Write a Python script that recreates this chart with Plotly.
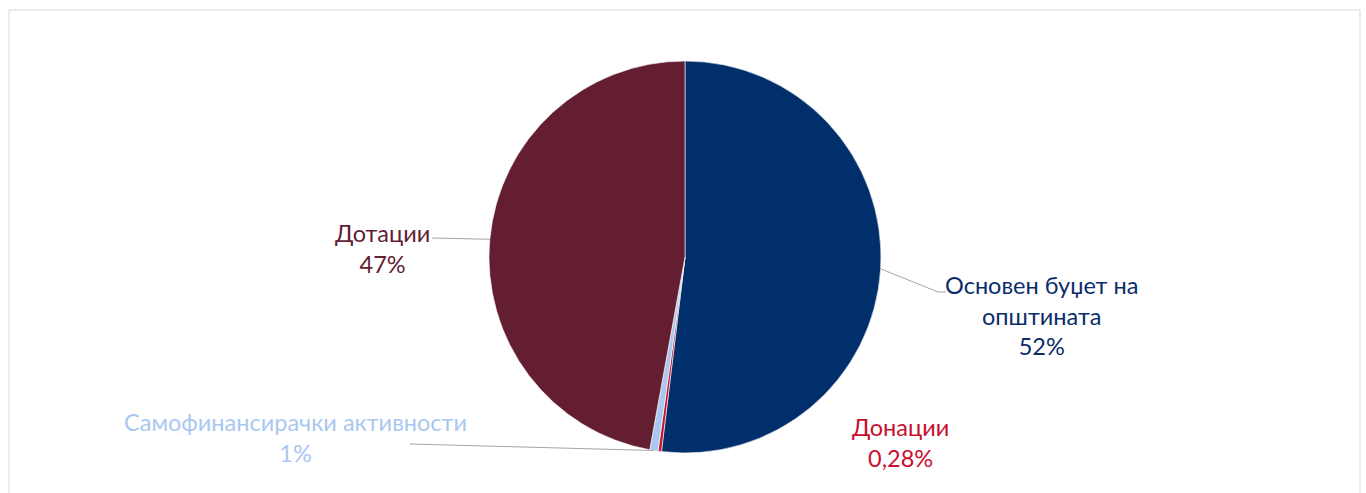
import math
import plotly.graph_objects as go

# Data
categories = ["Основен буџет на општината", "Донации", "Самофинансирачки активности", "Дотации"]
values = [51.92, 0.28, 0.68, 47.12]
pct_labels = ["52%", "0,28%", "1%", "47%"]
label_text = ["Основен буџет на<br>општината", "Донации", "Самофинансирачки активности", "Дотации"]
colors = ["#002F6C", "#C8102E", "#A9C8F0", "#641E32"]
text_colors = ["#0B2D6B", "#C8102E", "#A9C8F0", "#641E32"]

W, H = 1366, 493
cx, cy, R = 685, 257, 196

def px(x):
    return x / W

def py(y):
    return 1 - y / H

fig = go.Figure(go.Pie(
    labels=categories,
    values=values,
    sort=False,
    direction="clockwise",
    rotation=0,
    marker=dict(colors=colors, line=dict(color="white", width=0.6)),
    textinfo="none",
    hoverinfo="label+percent",
    showlegend=False,
    domain=dict(x=[px(cx - R), px(cx + R)], y=[py(cy + R), py(cy - R)]),
))

# slice mid-angle anchors on the pie edge (computed from data)
total = sum(values)
cum = 0
anchors = []
for v in values:
    mid = (cum + v / 2) / total * 2 * math.pi
    anchors.append((cx + R * math.sin(mid), cy - R * math.cos(mid)))
    cum += v

# label layout (positions in pixels)
label_pos = [(1041, 315), (900, 442), (295, 437), (382, 249)]
leader = [
    [(938, 292), (946, 292)],
    None,
    [(410, 444)],
    [(432, 238)],
]

shapes = [dict(type="rect", xref="paper", yref="paper",
               x0=px(9), x1=px(1360), y0=py(10), y1=py(520),
               line=dict(color="#D9D9D9", width=1), fillcolor="rgba(0,0,0,0)", layer="below")]
for i, pts in enumerate(leader):
    if not pts:
        continue
    path_pts = [anchors[i]] + pts
    for (x0, y0), (x1, y1) in zip(path_pts[:-1], path_pts[1:]):
        shapes.append(dict(type="line", xref="paper", yref="paper",
                           x0=px(x0), y0=py(y0), x1=px(x1), y1=py(y1),
                           line=dict(color="#A6A6A6", width=1)))

annotations = []
for i in range(len(categories)):
    x, y = label_pos[i]
    annotations.append(dict(
        x=px(x), y=py(y), xref="paper", yref="paper",
        text=f"{label_text[i]}<br>{pct_labels[i]}",
        showarrow=False, align="center", xanchor="center", yanchor="middle",
        font=dict(family="Lato, 'Noto Sans', sans-serif", size=23.5, color=text_colors[i]),
    ))

fig.update_layout(
    width=W, height=H,
    margin=dict(l=0, r=0, t=0, b=0),
    paper_bgcolor="white", plot_bgcolor="white",
    shapes=shapes, annotations=annotations,
)

fig.write_html(
    "out.html",
    config={"displayModeBar": False},
    post_script="document.body.style.margin='0';document.body.style.overflow='hidden';",
)
